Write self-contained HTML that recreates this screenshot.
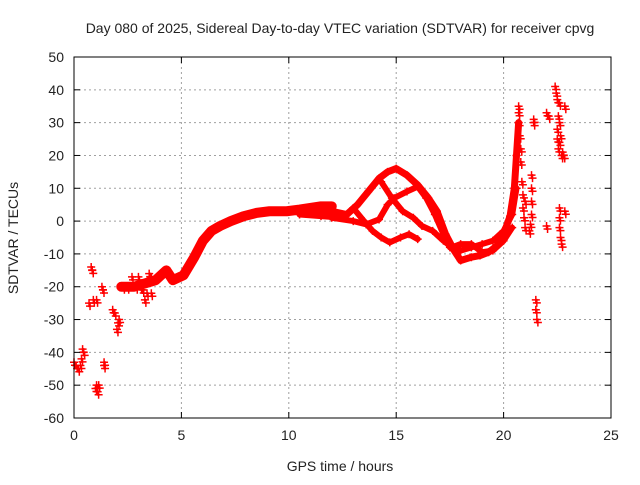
<!DOCTYPE html>
<html><head><meta charset="utf-8"><style>
body{margin:0;background:#fff}
svg text{font-family:"Liberation Sans",sans-serif;font-size:14px;fill:#222}
</style></head><body>
<svg width="640" height="480">
<rect width="640" height="480" fill="#fff"/>
<g id="grid"></g>
<g id="marks"></g>
<rect x="74" y="57" width="537" height="361" fill="none" stroke="#000" stroke-width="1"/>
<g id="ticks"></g>
<text x="340" y="33" text-anchor="middle">Day 080 of 2025, Sidereal Day-to-day VTEC variation (SDTVAR) for receiver cpvg</text>
<text x="340" y="471" text-anchor="middle">GPS time / hours</text>
<text x="18" y="238" text-anchor="middle" transform="rotate(-90 18 238)">SDTVAR / TECUs</text>
</svg>
<script>
const xTicks=[0,5,10,15,20,25];
const yTicks=[-60,-50,-40,-30,-20,-10,0,10,20,30,40,50];
const trackMain=[[2.2,-20],[2.8,-20],[3.3,-19],[3.8,-18],[4.3,-15],[4.6,-18],[5.1,-16.5],[5.6,-11],[6,-6],[6.4,-3],[6.8,-1.5],[7.3,0],[7.9,1.5],[8.5,2.5],[9.1,3],[9.9,3],[10.5,3.5],[11,4],[11.5,4.5],[12,4.5]];
const trackA=[[10.5,3],[11.2,2.5],[12,3],[12.7,2],[13.2,5],[13.7,9],[14.2,13],[14.6,15],[15,16],[15.5,14],[16,11],[16.5,7],[16.9,3],[17.3,-4],[17.7,-9],[18,-12],[18.5,-11],[18.9,-10.5],[19.3,-9.5],[19.7,-7.5],[20,-4],[20.3,1.5],[20.5,10],[20.6,20],[20.7,30]];
const trackB=[[10.5,2],[11.5,1.5],[12.5,1],[13,4],[13.5,0],[13.9,-3],[14.3,-5],[14.7,-6.5],[15.2,-5],[15.6,-4],[16,-5.5]];
const trackC=[[12,1],[13,0],[13.6,-1],[14.2,0.5],[14.6,5],[14.9,7],[15.5,9],[16,10.5],[16.4,7],[16.8,2],[17.2,-4],[17.5,-8],[18,-9],[18.5,-8],[19,-7],[19.5,-6],[20,-3],[20.4,2],[20.6,10]];
const trackD=[[14.3,12],[14.8,7],[15.3,3],[15.8,1],[16.2,-1.5],[16.7,-3],[17.2,-6],[17.6,-8],[18,-7],[18.5,-7],[19,-9.5],[19.5,-9],[20,-6],[20.4,-2]];
const scatterX=[0,0.1,0.2,0.3,0.35,0.4,0.45,0.8,0.85,1,1.05,1.1,1.15,0.7,0.9,1.05,1.3,1.35,1.4,1.4,1.8,1.9,2,2.05,2.1,2.3,2.5,2.7,2.9,3,3.1,3.2,3.3,3.4,3.5,3.6,3.6,
20.7,20.7,20.7,20.75,20.8,20.8,20.85,20.9,20.9,20.95,21.0,21.0,21.3,21.3,21.3,21.3,21.25,21.2,21.4,21.4,21.5,21.5,21.55,22.0,22.0,22.1,22.4,22.45,22.5,22.55,22.5,22.5,22.55,22.6,22.6,22.7,22.65,22.75,22.8,22.85,22.6,22.6,22.6,22.6,22.65,22.7,22.85];
const scatterY=[-43,-44,-45,-44,-42,-39,-40,-14,-15,-51,-50,-52,-50,-25,-24,-24,-20,-21,-43,-44,-27,-28,-33,-31,-30,-20,-20,-17,-20,-17,-20,-21,-24,-22,-16,-17,-22,
35,33,30,26,22,18,12,8,4,1,6,-2,14,10,6,2,-1,-3,31,30,-24,-27,-30,-1.5,33,32,41,39,37,32,28,25,22,30,24,20,26,21,20,35,36,4,1,-2,-5,-7,3,-4];
const X0=74,X1=611,Y0=418,Y1=57;
const sx=v=>X0+(v-0)/25*(X1-X0), sy=v=>Y0-(v+60)/110*(Y0-Y1);
const NS="http://www.w3.org/2000/svg";
const grid=document.getElementById('grid'),ticks=document.getElementById('ticks'),marks=document.getElementById('marks');
function mk(t,a,p){const e=document.createElementNS(NS,t);for(const k in a)e.setAttribute(k,a[k]);p.appendChild(e);return e;}
xTicks.forEach(v=>{const x=sx(v);
 if(v>0&&v<25){const l=mk('line',{x1:x,x2:x,y1:Y1,y2:Y0,stroke:'#a0a0a0','stroke-dasharray':'2,3'},grid);
 
 }
 mk('line',{x1:x,x2:x,y1:Y0,y2:Y0-6,stroke:'#000'},ticks);mk('line',{x1:x,x2:x,y1:Y1,y2:Y1+6,stroke:'#000'},ticks);
 const t=mk('text',{x:x,y:Y0+22,'text-anchor':'middle'},ticks);t.textContent=v;
 
 });
yTicks.forEach(v=>{const y=sy(v);
 if(v>-60&&v<50){const l=mk('line',{x1:X0,x2:X1,y1:y,y2:y,stroke:'#a0a0a0','stroke-dasharray':'2,3'},grid);
 
 }
 mk('line',{x1:X0,x2:X0+6,y1:y,y2:y,stroke:'#000'},ticks);mk('line',{x1:X1,x2:X1-6,y1:y,y2:y,stroke:'#000'},ticks);
 const t=mk('text',{x:X0-10,y:y+5,'text-anchor':'end'},ticks);t.textContent=v;
 
 });
function plus(x,y){const p=mk('path',{d:`M${x-4} ${y}h8M${x} ${y-4}v8`,stroke:'#f00','stroke-width':1.5},marks);
 
 }
[[trackMain,10],[trackA,7],[trackB,6],[trackC,6],[trackD,6]].forEach(([tr,w])=>{
 const pl=mk('polyline',{points:tr.map(d=>sx(d[0])+','+sy(d[1])).join(' '),fill:'none',stroke:'#f00','stroke-width':w,'stroke-linejoin':'round','stroke-linecap':'round'},marks);
 
 
 tr.forEach(d=>plus(sx(d[0]),sy(d[1])));});
scatterX.forEach((v,i)=>{plus(sx(v),sy(scatterY[i]));plus(sx(v)+1,sy(scatterY[i])+3);});
</script>
</body></html>
